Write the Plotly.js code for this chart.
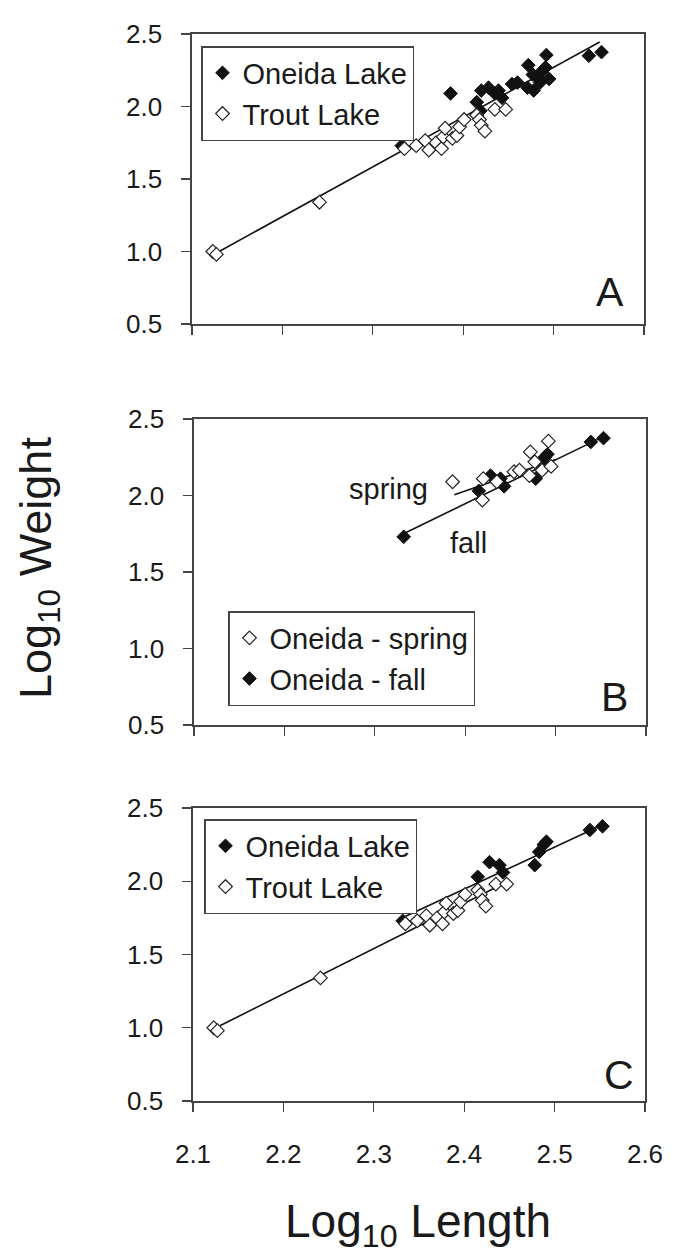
<!DOCTYPE html>
<html>
<head>
<meta charset="utf-8">
<script src="https://cdn.plot.ly/plotly-3.0.1.min.js"></script>
<style>html,body{margin:0;padding:0;background:#fff;}#chart{width:680px;height:1253px;}</style>
</head>
<body>
<div id="chart"></div>
<script>
// ---- Data (log10 length, log10 weight) ----
const troutX = [2.123, 2.127, 2.241, 2.335, 2.348, 2.358, 2.362, 2.370, 2.376, 2.378, 2.380, 2.388, 2.393, 2.396, 2.401, 2.415, 2.418, 2.420, 2.424, 2.435, 2.447];
const troutY = [1.00, 0.98, 1.34, 1.71, 1.73, 1.765, 1.70, 1.75, 1.71, 1.79, 1.85, 1.78, 1.80, 1.86, 1.91, 1.94, 1.91, 1.87, 1.83, 1.98, 1.98];

const springX = [2.386, 2.420, 2.419, 2.435, 2.454, 2.460, 2.471, 2.472, 2.477, 2.485, 2.492, 2.495];
const springY = [2.09, 2.11, 1.97, 2.09, 2.155, 2.165, 2.13, 2.285, 2.22, 2.165, 2.355, 2.19];

const fallX = [2.332, 2.415, 2.428, 2.439, 2.443, 2.478, 2.483, 2.488, 2.491, 2.539, 2.553];
const fallY = [1.73, 2.03, 2.13, 2.11, 2.06, 2.11, 2.20, 2.25, 2.27, 2.35, 2.375];

// fitted regression lines (end points)
const fitAllX = [2.127, 2.551];    const fitAllY = [0.99, 2.445];
const fitSpringX = [2.388, 2.500]; const fitSpringY = [2.005, 2.235];
const fitFallX = [2.334, 2.553];   const fitFallY = [1.757, 2.385];
const fitTroutX = [2.127, 2.447];  const fitTroutY = [1.005, 1.995];

const xTickVals = [2.1, 2.2, 2.3, 2.4, 2.5, 2.6];
const yTickVals = [0.5, 1.0, 1.5, 2.0, 2.5];

const oneidaX = springX.concat(fallX);
const oneidaY = springY.concat(fallY);

// ---- Styles ----
const FONT = 'Liberation Sans, Arial, Helvetica, sans-serif';
const INK = '#1a1a1a';
const filled = {symbol: 'diamond', size: 10.5, color: '#111', line: {color: '#111', width: 1}};
const open = {symbol: 'diamond', size: 10.5, color: '#fff', line: {color: '#222', width: 1.2}};
const fitLine = {color: '#111', width: 1.6};

function line(x, y, xa, ya) {
  return {x: x, y: y, xaxis: xa, yaxis: ya, mode: 'lines', line: fitLine, showlegend: false, hoverinfo: 'skip'};
}
function pts(x, y, xa, ya, mk, name, lg) {
  return {x: x, y: y, xaxis: xa, yaxis: ya, mode: 'markers', marker: mk, name: name, legend: lg, showlegend: true};
}

const traces = [
  // Panel A
  line(fitAllX, fitAllY, 'x', 'y'),
  pts(oneidaX, oneidaY, 'x', 'y', filled, 'Oneida Lake', 'legend'),
  pts(troutX, troutY, 'x', 'y', open, 'Trout Lake', 'legend'),
  // Panel B
  line(fitSpringX, fitSpringY, 'x2', 'y2'),
  line(fitFallX, fitFallY, 'x2', 'y2'),
  pts(fallX, fallY, 'x2', 'y2', filled, 'Oneida - fall', 'legend2'),
  pts(springX, springY, 'x2', 'y2', open, 'Oneida - spring', 'legend2'),
  // Panel C
  line(fitTroutX, fitTroutY, 'x3', 'y3'),
  line(fitFallX, fitFallY, 'x3', 'y3'),
  pts(fallX, fallY, 'x3', 'y3', filled, 'Oneida Lake', 'legend3'),
  pts(troutX, troutY, 'x3', 'y3', open, 'Trout Lake', 'legend3')
];

const W = 680, H = 1253;
const px = v => v / W;
const py = v => 1 - v / H;

function xAxis(dom, anchor, labels) {
  return {domain: dom, anchor: anchor, range: [2.1, 2.6], tickvals: xTickVals, tickformat: '.1f',
    showticklabels: labels, ticks: 'outside', ticklen: 9, tickwidth: 1.3, tickcolor: '#444',
    showline: true, mirror: true, linecolor: '#444', linewidth: 1.6, showgrid: false, zeroline: false,
    ticklabelstandoff: 20, tickfont: {family: FONT, size: 26, color: INK}, fixedrange: true};
}
function yAxis(dom, anchor) {
  return {domain: dom, anchor: anchor, range: [0.5, 2.5], tickvals: yTickVals, tickformat: '.1f',
    ticks: 'outside', ticklen: 9, tickwidth: 1.3, tickcolor: '#444',
    showline: true, mirror: true, linecolor: '#444', linewidth: 1.6, showgrid: false, zeroline: false,
    ticklabelstandoff: 14, tickfont: {family: FONT, size: 26, color: INK}, fixedrange: true};
}
function legendBox(x, y) {
  return {x: x, y: y, xref: 'paper', yref: 'paper', xanchor: 'left', yanchor: 'top',
    bgcolor: '#fff', bordercolor: '#444', borderwidth: 1.5, font: {family: FONT, size: 29, color: INK},
    tracegroupgap: 0, itemwidth: 30, traceorder: 'normal'};
}
function label(text, x, y, size, extra) {
  return Object.assign({text: text, xref: 'paper', yref: 'paper', x: px(x), y: py(y),
    xanchor: 'center', yanchor: 'middle', showarrow: false,
    font: {family: FONT, size: size, color: INK}}, extra || {});
}

const layout = {
  width: W, height: H, margin: {l: 0, r: 0, t: 0, b: 0},
  paper_bgcolor: '#fff', plot_bgcolor: '#fff', font: {family: FONT, color: INK},
  xaxis: xAxis([px(192), px(644)], 'y', false),
  yaxis: yAxis([py(324), py(34)], 'x'),
  xaxis2: xAxis([px(194), px(646)], 'y2', false),
  yaxis2: yAxis([py(725), py(419)], 'x2'),
  xaxis3: xAxis([px(193), px(645)], 'y3', true),
  yaxis3: yAxis([py(1101), py(808)], 'x3'),
  legend: legendBox(px(201), py(46)),
  legend2: Object.assign(legendBox(px(228), py(611)), {traceorder: 'reversed'}),
  legend3: legendBox(px(204), py(819)),
  annotations: [
    label('A', 610, 292, 41),
    label('B', 614, 697, 41),
    label('C', 619, 1075, 41),
    {text: 'spring', xref: 'x2', yref: 'y2', x: 2.315, y: 2.04, xanchor: 'center', yanchor: 'middle', showarrow: false, font: {family: FONT, size: 29, color: INK}},
    {text: 'fall', xref: 'x2', yref: 'y2', x: 2.4035, y: 1.69, xanchor: 'center', yanchor: 'middle', showarrow: false, font: {family: FONT, size: 29, color: INK}},
    label('Log<sub>10</sub> Weight', 38, 568, 45, {textangle: -90}),
    label('Log<sub>10</sub> Length', 418, 1224, 46)
  ]
};

Plotly.newPlot('chart', traces, layout, {staticPlot: true, displayModeBar: false});
</script>
</body>
</html>
